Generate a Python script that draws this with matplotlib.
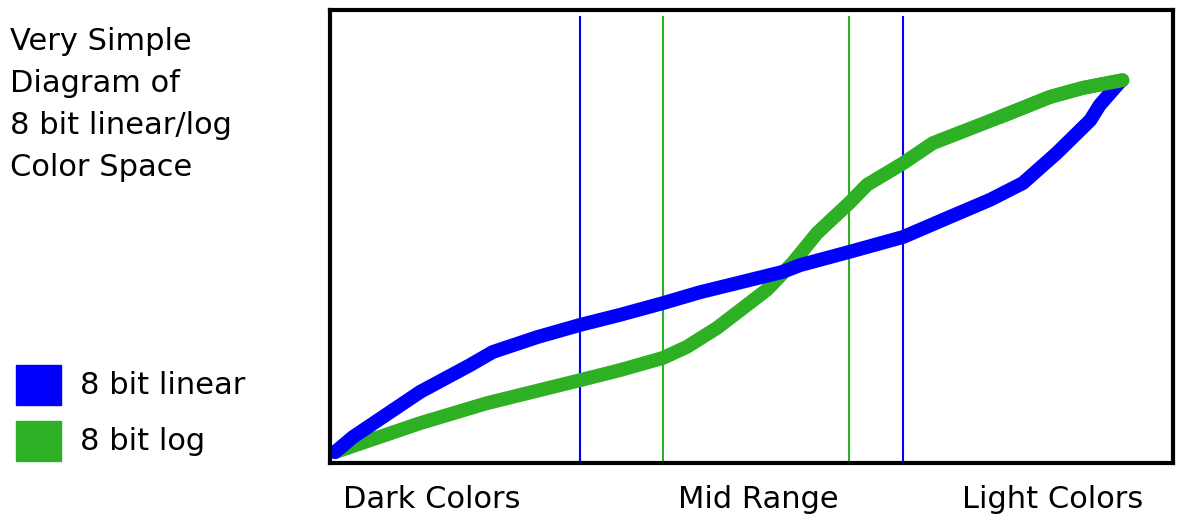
import matplotlib
matplotlib.use("Agg")
import matplotlib.pyplot as plt
from matplotlib.patches import Rectangle

# Curve data (x: % of axis width, y: % of axis height)
linear_x = [0.6, 2.7, 10.7, 16.6, 19.3, 24.6, 29.7, 34.4, 39.5, 43.9, 49.8, 53.7,
            55.8, 61.6, 68.0, 73.5, 78.3, 82.2, 86.2, 90.2, 91.3, 93.7]
linear_y = [2.4, 5.7, 15.7, 21.6, 24.5, 27.8, 30.5, 32.7, 35.3, 37.7, 40.4, 42.2,
            43.7, 46.6, 49.9, 54.3, 58.1, 61.8, 68.4, 75.7, 79.0, 84.1]
log_x = [0.6, 10.7, 18.6, 29.7, 34.4, 39.5, 42.3, 45.9, 51.8, 54.9, 57.8, 61.6,
         63.7, 68.0, 71.5, 79.5, 85.4, 89.3, 94.0]
log_y = [2.4, 8.8, 13.2, 18.3, 20.5, 23.2, 25.6, 29.8, 38.2, 44.2, 50.8, 57.4,
         61.4, 66.2, 70.6, 76.4, 80.8, 82.8, 84.5]

# Range markers
linear_bounds = [29.7, 68.0]
log_bounds = [39.5, 61.6]

x_labels = ["Dark Colors", "Mid Range", "Light Colors"]
series_names = ["8 bit linear", "8 bit log"]
title_lines = ["Very Simple", "Diagram of", "8 bit linear/log", "Color Space"]

BLUE = "#0000ff"
GREEN = "#2db024"

fig = plt.figure(figsize=(11.78, 5.2), dpi=100)
ax = fig.add_axes([330 / 1178, (520 - 463) / 520, (1173 - 330) / 1178, (463 - 10) / 520])
ax.set_xlim(0, 100)
ax.set_ylim(0, 100)
ax.set_xticks([])
ax.set_yticks([])
for s in ax.spines.values():
    s.set_linewidth(3)
    s.set_color("black")

for xv in linear_bounds:
    ax.plot([xv, xv], [0, 98.5], color=BLUE, lw=1.5)
for xv in log_bounds:
    ax.plot([xv, xv], [0, 98.5], color=GREEN, lw=1.5)

kw = dict(lw=10, solid_capstyle="round", solid_joinstyle="round")
ax.plot(log_x, log_y, color=GREEN, **kw)
ax.plot(linear_x, linear_y, color=BLUE, **kw)
ax.plot(log_x[-4:], log_y[-4:], color=GREEN, **kw)

font = "DejaVu Sans"
fs = 22

# title block
for i, line in enumerate(title_lines):
    fig.text(10 / 1178, 1 - (42 + 42 * i) / 520, line, fontsize=fs, family=font,
             va="center", ha="left")

# legend
colors = [BLUE, GREEN]
ys = [385, 441]
for name, c, yc in zip(series_names, colors, ys):
    fig.patches.append(Rectangle((16 / 1178, 1 - (yc + 20) / 520), 45 / 1178, 40 / 520,
                                 transform=fig.transFigure, color=c))
    fig.text(80 / 1178, 1 - yc / 520, name, fontsize=fs, family=font, va="center", ha="left")

# x labels (centred under their regions)
label_x = [432, 758, 1053]
for lab, px in zip(x_labels, label_x):
    fig.text(px / 1178, 1 - 500 / 520, lab, fontsize=fs, family=font, va="center", ha="center")

fig.savefig("out.png", dpi=100)
